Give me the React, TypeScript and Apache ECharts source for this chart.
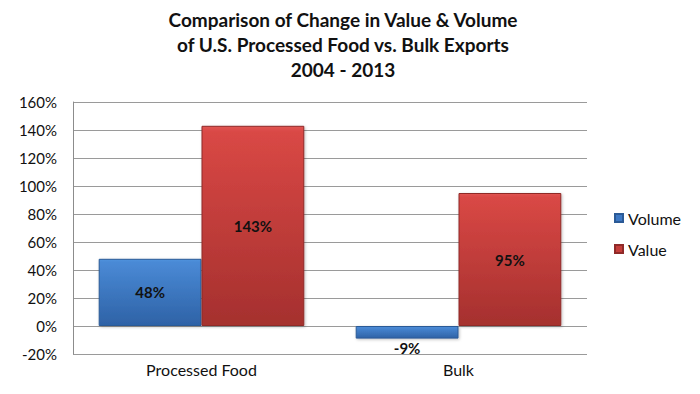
import React, { useEffect, useRef } from "react";
import * as echarts from "echarts";

const categories = ["Processed Food", "Bulk"];
const volumeValues = [48, -9];
const valueValues = [143, 95];
const yTicks = { min: -20, max: 160, interval: 20 };
const titleLines = [
  "Comparison of Change in Value & Volume",
  "of U.S. Processed Food vs. Bulk Exports",
  "2004 - 2013",
];

const FONT = "Lato, 'Open Sans', sans-serif";

export default function App() {
  const ref = useRef<HTMLDivElement>(null);
  useEffect(() => {
    if (!ref.current) return;
    const chart = echarts.init(ref.current, undefined, { renderer: "svg" });
    const blue = new echarts.graphic.LinearGradient(0, 0, 0, 1, [
      { offset: 0, color: "#5094de" },
      { offset: 0.04, color: "#4a8ad6" },
      { offset: 1, color: "#2e62a6" },
    ]);
    const red = new echarts.graphic.LinearGradient(0, 0, 0, 1, [
      { offset: 0, color: "#e05552" },
      { offset: 0.03, color: "#d94845" },
      { offset: 1, color: "#a5302e" },
    ]);
    chart.setOption({
      animation: false,
      backgroundColor: "#ffffff",
      title: {
        text: titleLines.join("\n"),
        left: 338,
        textAlign: "center",
        top: 2,
        textStyle: {
          fontFamily: FONT,
          fontSize: 19,
          fontWeight: "bold",
          color: "#111",
          lineHeight: 25,
        },
      },
      legend: {
        orient: "vertical",
        left: 609,
        top: 205,
        itemWidth: 8,
        itemHeight: 8,
        itemGap: 15,
        textStyle: { fontFamily: FONT, fontSize: 16, color: "#111", padding: [0, 0, 0, 0] },
        data: [
          { name: "Volume", icon: "rect", itemStyle: { color: "#3d78c4" } },
          { name: "Value", icon: "rect", itemStyle: { color: "#c43d3a" } },
        ],
      },
      grid: { left: 73, right: 113, top: 102, bottom: 40 },
      xAxis: {
        type: "category",
        data: categories,
        axisLine: { show: false, onZero: false },
        axisTick: { show: false },
        axisLabel: { fontFamily: FONT, fontSize: 16, color: "#111", margin: 7 },
      },
      yAxis: {
        type: "value",
        min: yTicks.min,
        max: yTicks.max,
        interval: yTicks.interval,
        axisLine: { show: true, lineStyle: { color: "#8c8c8c" } },
        axisTick: { show: false },
        splitLine: { lineStyle: { color: "#9a9a9a", width: 1 } },
        axisLabel: {
          fontFamily: FONT,
          fontSize: 15,
          color: "#111",
          margin: 16,
          formatter: "{value}%",
        },
      },
      series: [
        {
          name: "Volume",
          type: "bar",
          barGap: "0%",
          barCategoryGap: "20%",
          data: volumeValues.map((v) => ({
            value: v,
            label: { position: v < 0 ? "bottom" : "inside", distance: 2 },
          })),
          itemStyle: {
            color: blue,
            borderColor: "#2b5a96",
            borderWidth: 1,
            shadowColor: "rgba(0,0,0,0.25)",
            shadowBlur: 3,
            shadowOffsetX: 1,
            shadowOffsetY: 1,
          },
          label: {
            show: true,
            fontFamily: FONT,
            fontSize: 15,
            fontWeight: "bold",
            color: "#111",
            formatter: "{c}%",
          },
        },
        {
          name: "Value",
          type: "bar",
          data: valueValues,
          itemStyle: {
            color: red,
            borderColor: "#8f2a28",
            borderWidth: 1,
            shadowColor: "rgba(0,0,0,0.25)",
            shadowBlur: 3,
            shadowOffsetX: 1,
            shadowOffsetY: 1,
          },
          label: {
            show: true,
            position: "inside",
            fontFamily: FONT,
            fontSize: 15,
            fontWeight: "bold",
            color: "#111",
            formatter: "{c}%",
          },
        },
      ],
    });
    return () => chart.dispose();
  }, []);
  return <div ref={ref} style={{ width: 700, height: 394, position: "absolute", left: 0, top: 0 }} />;
}
